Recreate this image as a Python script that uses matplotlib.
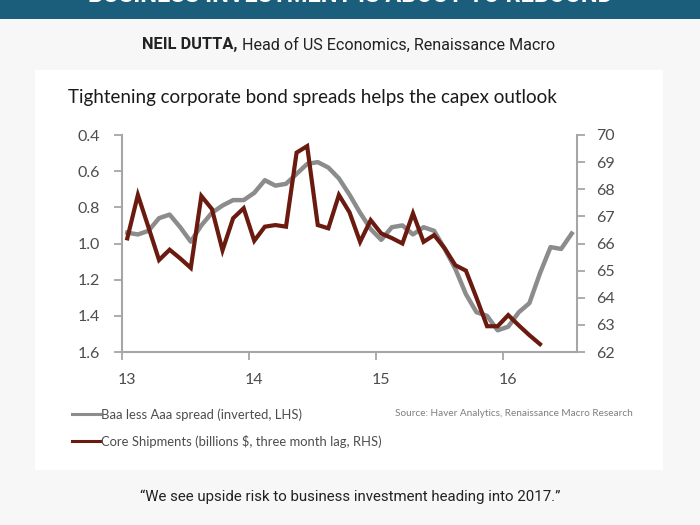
import matplotlib
matplotlib.use("Agg")
import matplotlib.pyplot as plt
from matplotlib.patches import Rectangle
from matplotlib.lines import Line2D
import matplotlib.transforms as mtransforms
import numpy as np

# ---------------- data ----------------
months_spread = 43   # Jan 2013 .. Jul 2016
months_ship = 40     # Jan 2013 .. Apr 2016
spread = [0.94, 0.95, 0.93, 0.86, 0.84, 0.91, 0.99, 0.90, 0.83, 0.79,
          0.76, 0.76, 0.72, 0.65, 0.68, 0.67, 0.615, 0.56, 0.55, 0.58,
          0.64, 0.73, 0.83, 0.92, 0.98, 0.91, 0.90, 0.95, 0.91, 0.93,
          1.03, 1.14, 1.28, 1.38, 1.40, 1.48, 1.46, 1.38, 1.33, 1.165,
          1.02, 1.03, 0.945]
shipments = [66.19, 67.79, 66.60, 65.39, 65.77, 65.45, 65.10, 67.75, 67.27, 65.75,
             66.93, 67.30, 66.10, 66.62, 66.68, 66.62, 69.35, 69.59, 66.68, 66.56,
             67.79, 67.15, 66.06, 66.86, 66.37, 66.20, 66.00, 67.11, 66.06, 66.31,
             65.82, 65.20, 65.00, 64.00, 62.95, 62.95, 63.36, 62.98, 62.62, 62.29]
year_ticks = [2013, 2014, 2015, 2016]
year_labels = ["13", "14", "15", "16"]
left_ticks = [0.4, 0.6, 0.8, 1.0, 1.2, 1.4, 1.6]
right_ticks = [62, 63, 64, 65, 66, 67, 68, 69, 70]
series_names = ["Baa less Aaa spread (inverted, LHS)",
                "Core Shipments (billions $, three month lag, RHS)"]

x_spread = 2013 + (np.arange(months_spread) + 0.5) / 12
x_ship = 2013 + (np.arange(months_ship) + 0.5) / 12

# ---------------- figure ----------------
W, H = 700, 525
fig = plt.figure(figsize=(7, 5.25), dpi=100)
fig.patch.set_facecolor("#f7f7f7")

def fx(px):
    return px / W

def fy(py):
    return 1 - py / H

gray_col = "#8c8c8c"
brown_col = "#6a1a0f"

# banner
fig.patches.append(Rectangle((0, fy(19)), 1, 19 / H, transform=fig.transFigure,
                             facecolor="#1b5e7b", edgecolor="none", zorder=-2))
fig.text(0.5, fy(-4), "BUSINESS INVESTMENT IS ABOUT TO REBOUND", color="white",
         fontsize=17, fontweight="bold", family="Roboto", ha="center", va="center")

# white card
fig.patches.append(Rectangle((fx(35), fy(470)), 628 / W, 400 / H, transform=fig.transFigure,
                             facecolor="white", edgecolor="none", zorder=-2))

# subtitle
t1 = fig.text(fx(142), fy(45), "NEIL DUTTA,", fontsize=11.8, fontweight="bold",
              family="Roboto", color="#222222", ha="left", va="center")
fig.canvas.draw()
bb = t1.get_window_extent()
fig.text(bb.x1 / W + fx(4), fy(45), "Head of US Economics, Renaissance Macro", fontsize=11.6,
         family="Roboto", color="#222222", ha="left", va="center")

# quote
fig.text(0.5, fy(497), "\u201cWe see upside risk to business investment heading into 2017.\u201d",
         fontsize=10.8, family="Roboto", color="#222222", ha="center", va="center")

# chart title
fig.text(fx(68), fy(98), "Tightening corporate bond spreads helps the capex outlook",
         fontsize=13.5, family="Lato", color="#1a1a1a", ha="left", va="center")

# axes
ax = fig.add_axes([fx(122), fy(352), (577 - 122) / W, (352 - 135) / H])
ax.set_facecolor("none")
ax2 = ax.twinx()

axis_col = "#a6a6a6"
lab_col = "#4d4d4d"

l1, = ax.plot(x_spread, spread, color=gray_col, lw=3.2, solid_joinstyle="round",
              label=series_names[0], zorder=2)
l2, = ax2.plot(x_ship, shipments, color=brown_col, lw=3.0, solid_joinstyle="miter",
               label=series_names[1], zorder=3)

ax.set_xlim(2013, 2013 + months_spread / 12)
ax.set_ylim(1.6, 0.4)
ax2.set_ylim(62, 70)

ax.set_xticks(year_ticks)
ax.set_xticklabels(year_labels)
ax.set_yticks(left_ticks)
ax.set_yticklabels([f"{v:.1f}" for v in left_ticks])
ax2.set_yticks(right_ticks)
ax2.set_yticklabels([str(v) for v in right_ticks])

for a in (ax, ax2):
    for s in a.spines.values():
        s.set_visible(False)
    a.tick_params(colors=axis_col, labelcolor=lab_col, labelsize=11.5, length=6, width=1.3)
    for lbl in a.get_yticklabels() + a.get_xticklabels():
        lbl.set_family("Lato")

ax.spines["left"].set_visible(True)
ax.spines["bottom"].set_visible(True)
ax2.spines["right"].set_visible(True)
for s in (ax.spines["left"], ax.spines["bottom"], ax2.spines["right"]):
    s.set_color(axis_col)
    s.set_linewidth(1.5)
ax.tick_params(axis="y", pad=10)
ax2.tick_params(axis="y", pad=8)
ax.tick_params(axis="x", pad=9)
ax2.set_zorder(ax.get_zorder() + 1)
ax2.patch.set_visible(False)

# shift year labels slightly right of the tick marks (as in the original)
offset = mtransforms.ScaledTranslation(5 / 100, 0, fig.dpi_scale_trans)
for lbl in ax.get_xticklabels():
    lbl.set_transform(lbl.get_transform() + offset)

# legend
h1 = Line2D([], [], color=gray_col, lw=2.2)
h2 = Line2D([], [], color=brown_col, lw=2.2)
leg = fig.legend(handles=[h1, h2], labels=series_names, loc="upper left",
                 bbox_to_anchor=(fx(72), fy(408)),
                 frameon=False, handlelength=2.15, handletextpad=0.05, labelspacing=1.1,
                 prop={"family": "Lato", "size": 9.4}, borderpad=0, borderaxespad=0)
for t in leg.get_texts():
    t.set_color(lab_col)

fig.text(fx(395), fy(414), "Source: Haver Analytics, Renaissance Macro Research",
         fontsize=7.2, family="Lato", color="#7f7f7f", ha="left", va="center")

fig.savefig("out.png", dpi=100, facecolor=fig.get_facecolor())
